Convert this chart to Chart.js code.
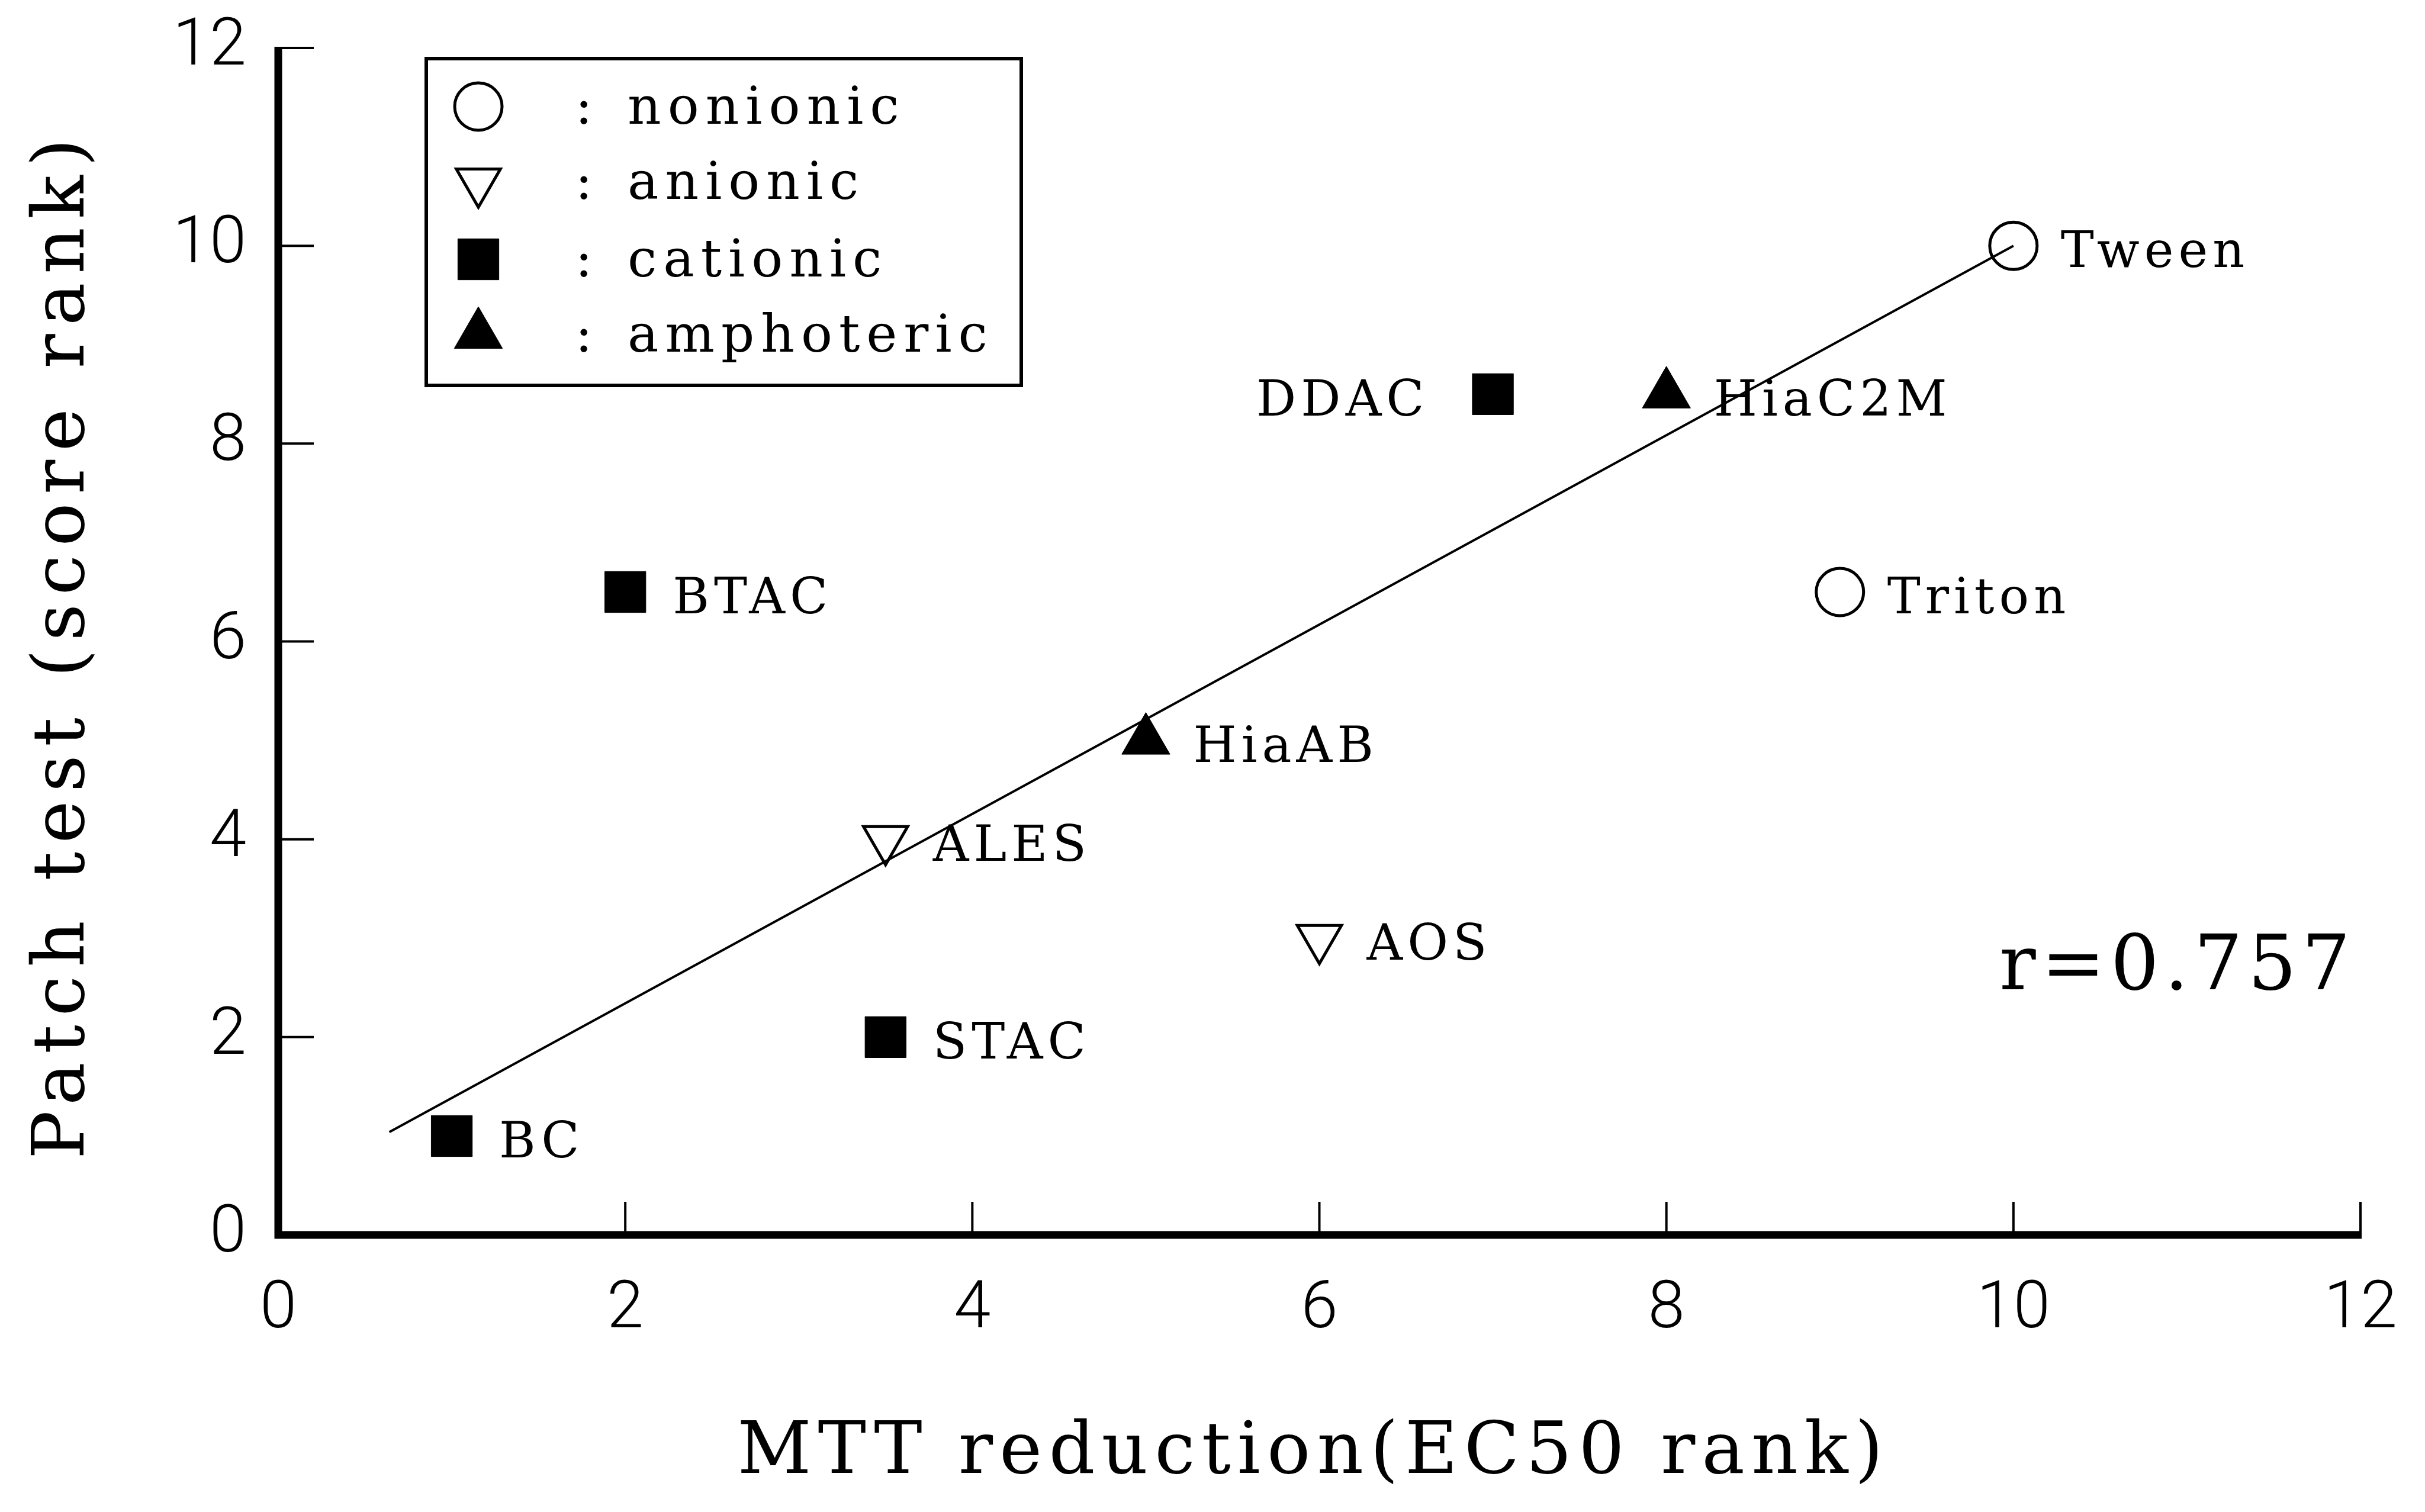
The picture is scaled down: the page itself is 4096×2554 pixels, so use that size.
<!DOCTYPE html>
<html>
<head>
<meta charset="utf-8">
<script src="https://cdn.jsdelivr.net/npm/chart.js@4/dist/chart.umd.min.js"></script>
<style>
  html, body { margin: 0; padding: 0; background: #ffffff; overflow: hidden; }
  canvas { display: block; }
</style>
</head>
<body>
<canvas id="chart" width="4096" height="2554" style="width:4096px;height:2554px"></canvas>
<script>
// Surfactant irritancy: in-vitro MTT EC50 rank against human patch test score rank
const compounds      = ['Tween', 'Triton', 'ALES', 'AOS', 'BC', 'BTAC', 'DDAC', 'STAC', 'HiaAB', 'HiaC2M'];
const surfactantType = ['nonionic', 'nonionic', 'anionic', 'anionic', 'cationic', 'cationic', 'cationic', 'cationic', 'amphoteric', 'amphoteric'];
const mttRank        = [10, 9, 3.5, 6, 1, 2, 7, 3.5, 5, 8];
const patchRank      = [10, 6.5, 4, 3, 1, 6.5, 8.5, 2, 5, 8.5];
const typeNames      = ['nonionic', 'anionic', 'cationic', 'amphoteric'];
const fitX           = [0.64, 10];
const fitY           = [1.04, 10];
const axisTicks      = [0, 2, 4, 6, 8, 10, 12];
const corrText       = 'r=0.757';
const xTitle         = 'MTT reduction(EC50 rank)';
const yTitle         = 'Patch test (score rank)';

// marker look per surfactant class
const typeStyle = {
  nonionic:   { pointStyle: 'circle',   rotation: 0,   radius: 40, filled: false },
  anionic:    { pointStyle: 'triangle', rotation: 180, radius: 43, filled: false },
  cationic:   { pointStyle: 'rect',     rotation: 0,   radius: 49, filled: true },
  amphoteric: { pointStyle: 'triangle', rotation: 0,   radius: 47, filled: true }
};

const W = 4096, H = 2554;
const plotLeft = 470, plotRight = 3987, plotTop = 81, plotBottom = 2086;
const SERIF = '"DejaVu Serif", "Liberation Serif", serif';
const INK = '#000000';

const scatterSets = typeNames.map(t => {
  const st = typeStyle[t];
  const pts = [];
  compounds.forEach((name, i) => {
    if (surfactantType[i] === t) pts.push({ x: mttRank[i], y: patchRank[i], name });
  });
  return {
    type: 'scatter',
    label: t,
    data: pts,
    pointStyle: st.pointStyle,
    pointRotation: st.rotation,
    pointRadius: st.radius,
    pointHoverRadius: st.radius,
    pointBackgroundColor: st.filled ? INK : 'rgba(0,0,0,0)',
    pointBorderColor: INK,
    pointBorderWidth: st.filled ? 1 : 5,
    order: 2
  };
});

const fitSet = {
  type: 'scatter',
  label: 'fit',
  data: fitX.map((x, i) => ({ x, y: fitY[i] })),
  showLine: true,
  borderColor: INK,
  borderWidth: 4,
  pointRadius: 0,
  pointHoverRadius: 0,
  fill: false,
  order: 1
};

function plainWidth(ctx, text) {
  ctx.letterSpacing = '0px';
  return ctx.measureText(text).width;
}
function drawSpaced(ctx, text, x, y, spacing, align) {
  const n = Array.from(text).length;
  const w = plainWidth(ctx, text) + spacing * (n - 1);
  const x0 = align === 'right' ? x - w : (align === 'center' ? x - w / 2 : x);
  ctx.textAlign = 'left';
  ctx.letterSpacing = spacing + 'px';
  ctx.fillText(text, x0, y);
  ctx.letterSpacing = '0px';
}
function drawFitted(ctx, text, cx, y, width) {
  const n = Array.from(text).length;
  const spacing = (width - plainWidth(ctx, text)) / (n - 1);
  drawSpaced(ctx, text, cx, y, spacing, 'center');
}
function drawMarker(ctx, t, x, y) {
  const st = typeStyle[t];
  ctx.save();
  ctx.fillStyle = st.filled ? INK : 'rgba(0,0,0,0)';
  ctx.strokeStyle = INK;
  ctx.lineWidth = st.filled ? 1 : 5;
  if (Chart.helpers && Chart.helpers.drawPoint) {
    Chart.helpers.drawPoint(ctx, { pointStyle: st.pointStyle, rotation: st.rotation, radius: st.radius, borderWidth: ctx.lineWidth }, x, y);
  }
  ctx.restore();
}

// point names beside each marker
const labelGap = 80, labelGapLeft = 116, labelDrop = 36;
const leftLabels = new Set(['DDAC']);

const decorPlugin = {
  id: 'decor',
  afterDatasetsDraw(chart) {
    const ctx = chart.ctx;
    ctx.save();
    ctx.fillStyle = INK;
    ctx.font = '84px ' + SERIF;
    ctx.textBaseline = 'alphabetic';
    chart.data.datasets.forEach((ds, di) => {
      if (ds.label === 'fit') return;
      const meta = chart.getDatasetMeta(di);
      meta.data.forEach((el, i) => {
        const name = ds.data[i].name;
        if (leftLabels.has(name)) {
          drawSpaced(ctx, name, el.x - labelGapLeft, el.y + labelDrop, 8, 'right');
        } else {
          drawSpaced(ctx, name, el.x + labelGap, el.y + labelDrop, 8, 'left');
        }
      });
    });
    ctx.restore();
  },
  afterDraw(chart) {
    const ctx = chart.ctx;
    const xs = chart.scales.x, ys = chart.scales.y;
    const x0 = xs.getPixelForValue(0), x12 = xs.getPixelForValue(12);
    const y0 = ys.getPixelForValue(0), y12 = ys.getPixelForValue(12);
    ctx.save();
    ctx.strokeStyle = INK;
    ctx.fillStyle = INK;
    ctx.lineCap = 'butt';

    // axis lines
    ctx.lineWidth = 13;
    ctx.beginPath();
    ctx.moveTo(x0, y12 - 2);
    ctx.lineTo(x0, y0 + 6.5);
    ctx.moveTo(x0 - 6.5, y0);
    ctx.lineTo(x12 + 2, y0);
    ctx.stroke();

    // inward tick marks
    ctx.lineWidth = 4;
    ctx.beginPath();
    axisTicks.forEach(v => {
      if (v === 0) return;
      const py = ys.getPixelForValue(v);
      ctx.moveTo(x0, py);
      ctx.lineTo(x0 + 60, py);
      const px = xs.getPixelForValue(v);
      ctx.moveTo(px, y0);
      ctx.lineTo(px, y0 - 56);
    });
    ctx.stroke();

    // axis titles
    ctx.font = '122px ' + SERIF;
    ctx.textBaseline = 'alphabetic';
    drawFitted(ctx, xTitle, 2213, 2488, 1935);
    ctx.save();
    ctx.translate(141, 1096);
    ctx.rotate(-Math.PI / 2);
    drawFitted(ctx, yTitle, 0, 0, 1724);
    ctx.restore();

    // correlation coefficient
    ctx.font = '129px ' + SERIF;
    drawSpaced(ctx, corrText, 3377, 1671, 9, 'left');

    // legend box
    const box = { left: 720, top: 99, right: 1725, bottom: 651 };
    ctx.lineWidth = 6;
    ctx.strokeRect(box.left, box.top, box.right - box.left, box.bottom - box.top);
    const rowY = [180, 307, 438, 565];
    ctx.font = '88px ' + SERIF;
    typeNames.forEach((t, i) => {
      drawMarker(ctx, t, 808, rowY[i]);
      ctx.fillStyle = INK;
      drawSpaced(ctx, ':', 986, rowY[i] + 29, 0, 'center');
      drawSpaced(ctx, t, 1060, rowY[i] + 29, 11, 'left');
    });
    ctx.restore();
  }
};

const tickFont = { family: 'Roboto, "Liberation Sans", sans-serif', size: 112, weight: 300 };

// fixed plot frame: the scales take exactly the space around it
function fixX(s) { s.height = H - plotBottom; s.paddingLeft = 0; s.paddingRight = 0; s.paddingTop = 0; s.paddingBottom = 0; }
function fixY(s) { s.width = plotLeft; s.paddingLeft = 0; s.paddingRight = 0; s.paddingTop = 0; s.paddingBottom = 0; }

new Chart(document.getElementById('chart'), {
  data: { datasets: [fitSet, ...scatterSets] },
  options: {
    responsive: false,
    devicePixelRatio: 1,
    animation: false,
    events: [],
    layout: { padding: { left: 0, right: W - plotRight, top: plotTop, bottom: 0 } },
    plugins: { legend: { display: false }, tooltip: { enabled: false }, title: { display: false } },
    scales: {
      x: {
        type: 'linear', min: 0, max: 12,
        afterBuildTicks: s => { s.ticks = axisTicks.map(v => ({ value: v })); },
        afterFit: fixX,
        grid: { display: false, drawTicks: false },
        border: { display: false },
        ticks: { padding: 61, color: INK, font: tickFont, maxRotation: 0, autoSkip: false },
        title: { display: false }
      },
      y: {
        type: 'linear', min: 0, max: 12,
        afterBuildTicks: s => { s.ticks = axisTicks.map(v => ({ value: v })); },
        afterFit: fixY,
        grid: { display: false, drawTicks: false },
        border: { display: false },
        ticks: { padding: 54, color: INK, font: tickFont, autoSkip: false },
        title: { display: false }
      }
    }
  },
  plugins: [decorPlugin]
});
</script>
</body>
</html>
